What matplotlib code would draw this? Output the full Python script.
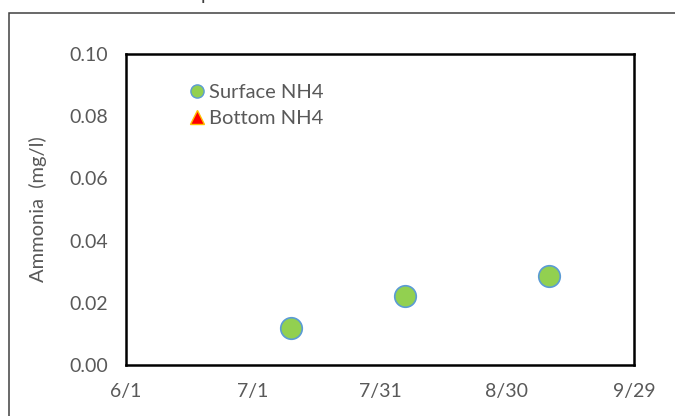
import matplotlib
matplotlib.use('Agg')
import matplotlib.pyplot as plt
import matplotlib.dates as mdates
from matplotlib.lines import Line2D
from matplotlib.patches import Rectangle
import datetime as dt

# data
surface_dates = ['2019-07-10', '2019-08-06', '2019-09-09']
surface_nh4 = [0.0118, 0.0222, 0.0286]
bottom_dates = []
bottom_nh4 = []

tick_dates = ['2019-06-01', '2019-07-01', '2019-07-31', '2019-08-30', '2019-09-29']
y_ticks = [0.00, 0.02, 0.04, 0.06, 0.08, 0.10]

grey = '#595959'
plt.rcParams['font.family'] = ['Lato', 'DejaVu Sans']

def to_dates(lst):
    return [dt.datetime.strptime(s, '%Y-%m-%d') for s in lst]

fig = plt.figure(figsize=(6.75, 4.16), dpi=100)
ax = fig.add_axes([126/675, 1-365/416, 508/675, 311/416])

# outer chart border (clipped on right/bottom)
fig.patches.append(Rectangle((9/675, -0.2), 1.2, 1-12.5/416+0.2, transform=fig.transFigure,
                             fill=False, edgecolor='#404040', lw=1.1))
# clipped title descender
fig.text(206/675, 1.0, 'p', ha='center', va='baseline', fontsize=14, color='#404040')

ax.plot(to_dates(surface_dates), surface_nh4, 'o', ms=15.5, color='#92D050',
        mec='#5B9BD5', mew=1.2, label='Surface NH4')
ax.plot(to_dates(bottom_dates), bottom_nh4, '^', ms=10, color='#FF0000',
        mec='#FFC000', mew=1.2, label='Bottom NH4')

td = to_dates(tick_dates)
ax.set_xlim(td[0], td[-1])
ax.set_xticks(td)
ax.xaxis.set_major_formatter(plt.FuncFormatter(
    lambda v, p: '{}/{}'.format(mdates.num2date(v).month, mdates.num2date(v).day)))
ax.set_ylim(0, 0.10)
ax.set_yticks(y_ticks)
ax.set_yticklabels(['{:.2f}'.format(v) for v in y_ticks])
ax.tick_params(length=0, labelsize=14, labelcolor=grey, pad=13)

for s in ax.spines.values():
    s.set_linewidth(1.8)
    s.set_color('black')

ax.set_ylabel('Ammonia  (mg/l)', fontsize=14.5, color=grey)
ax.yaxis.set_label_coords(-0.155, 0.5)

handles = [Line2D([], [], ls='', marker='o', ms=9.5, color='#92D050', mec='#5B9BD5', mew=1.0),
           Line2D([], [], ls='', marker='^', ms=9.5, color='#FF0000', mec='#FFC000', mew=1.0)]
leg = ax.legend(handles, ['Surface NH4', 'Bottom NH4'], loc='upper left',
                bbox_to_anchor=(0.0837, 0.962), frameon=False, fontsize=14.5,
                handletextpad=0.12, labelspacing=0.42, handlelength=1.0)
for t in leg.get_texts():
    t.set_color(grey)

fig.savefig('out.png', dpi=100)
